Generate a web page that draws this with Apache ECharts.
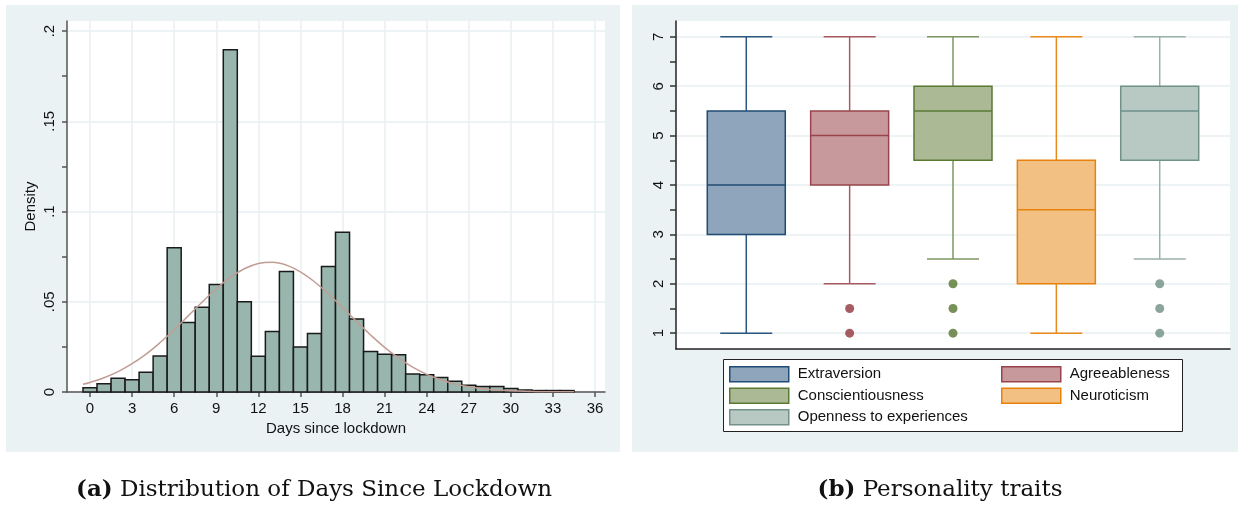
<!DOCTYPE html>
<html>
<head>
<meta charset="utf-8">
<script src="https://cdn.jsdelivr.net/npm/echarts@6/dist/echarts.min.js"></script>
<style>
html, body { margin: 0; padding: 0; background: #fff; }
#chart { width: 1239px; height: 506px; }
</style>
</head>
<body>
<div id="chart"></div>
<script>
// panel (a): histogram of days since lockdown
const days = [0, 1, 2, 3, 4, 5, 6, 7, 8, 9, 10, 11, 12, 13, 14, 15, 16, 17, 18, 19, 20, 21, 22, 23, 24, 25, 26, 27, 28, 29, 30, 31, 32, 33, 34];
const density = [0.0024, 0.0046, 0.0076, 0.0068, 0.011, 0.020, 0.080, 0.0385, 0.047, 0.0596, 0.1896, 0.050, 0.0198, 0.0335, 0.0668, 0.025, 0.0324, 0.0696, 0.0885, 0.0405, 0.0224, 0.0209, 0.0207, 0.010, 0.0096, 0.0081, 0.0059, 0.0037, 0.003, 0.003, 0.002, 0.0011, 0.0008, 0.0008, 0.0008];
// normal density overlay
const normalX = [-0.5, 0, 1, 2, 3, 4, 5, 6, 7, 8, 9, 10, 11, 12, 13, 14, 15, 16, 17, 18, 19, 20, 21, 22, 23, 24, 25, 26, 27, 28, 29, 30, 31, 32, 33, 34, 34.5];
const normalY = [0.0043, 0.0053, 0.0079, 0.0113, 0.0157, 0.021, 0.0274, 0.0345, 0.0422, 0.0499, 0.0572, 0.0635, 0.0683, 0.0712, 0.0719, 0.0703, 0.0666, 0.0611, 0.0543, 0.0468, 0.0391, 0.0316, 0.0247, 0.0188, 0.0138, 0.0098, 0.0068, 0.0045, 0.0029, 0.0018, 0.0011, 0.0007, 0.0004, 0.0002, 0.0001, 0.0001, 0.0001];
const dayTicks = [0, 3, 6, 9, 12, 15, 18, 21, 24, 27, 30, 33, 36];
const densityTicks = [0, 0.05, 0.1, 0.15, 0.2];
const densityMinor = [0.025, 0.075, 0.125, 0.175];

// panel (b): personality traits
const traits = ['Extraversion', 'Agreeableness', 'Conscientiousness', 'Neuroticism', 'Openness to experiences'];
const boxLow = [1, 2, 2.5, 1, 2.5];
const boxQ1 = [3, 4, 4.5, 2, 4.5];
const boxMed = [4, 5, 5.5, 3.5, 5.5];
const boxQ3 = [5.5, 5.5, 6, 4.5, 6];
const boxHigh = [7, 7, 7, 7, 7];
const outliers = [[], [1.5, 1], [2, 1.5, 1], [], [2, 1.5, 1]];
const scoreTicks = [1, 2, 3, 4, 5, 6, 7];
const scoreMinor = [1.5, 2.5, 3.5, 4.5, 5.5, 6.5];

const boxFill = ['#8ea5bb', '#c7999c', '#abb995', '#f1c082', '#b8c8c3'];
const boxLine = ['#1f4b74', '#98444a', '#5a7a34', '#e8820c', '#71918a'];
const whiskerLine = ['#2a5680', '#a85a60', '#7f9563', '#ea8a1a', '#9ab1aa'];
const dotColor = ['#1f4b74', '#90353b', '#55752f', '#e8820c', '#6e8e84'];

const gridColor = '#e9f1f2';
const panelBg = '#eaf2f3';

var myChart = echarts.init(document.getElementById('chart'));

function renderBar(params, api) {
  var x = api.value(0), y = api.value(1);
  var p0 = api.coord([x - 0.5, y]);
  var p1 = api.coord([x + 0.5, 0]);
  return {
    type: 'rect',
    shape: { x: p0[0], y: p0[1], width: p1[0] - p0[0], height: p1[1] - p0[1] },
    style: { fill: '#98b6ad', stroke: '#1a1a1a', lineWidth: 1.5 }
  };
}

function makeBox(i) {
  return function (params, api) {
    var x = api.value(0);
    var lo = api.coord([x, api.value(1)]);
    var q1 = api.coord([x, api.value(2)]);
    var md = api.coord([x, api.value(3)]);
    var q3 = api.coord([x, api.value(4)]);
    var hi = api.coord([x, api.value(5)]);
    var cx = lo[0], bw = 78, cw = 52;
    var ws = { stroke: whiskerLine[i], lineWidth: 1.5 };
    return {
      type: 'group',
      children: [
        { type: 'line', shape: { x1: cx, y1: q3[1], x2: cx, y2: hi[1] }, style: ws },
        { type: 'line', shape: { x1: cx, y1: q1[1], x2: cx, y2: lo[1] }, style: ws },
        { type: 'line', shape: { x1: cx - cw / 2, y1: hi[1], x2: cx + cw / 2, y2: hi[1] }, style: ws },
        { type: 'line', shape: { x1: cx - cw / 2, y1: lo[1], x2: cx + cw / 2, y2: lo[1] }, style: ws },
        { type: 'rect', shape: { x: cx - bw / 2, y: q3[1], width: bw, height: q1[1] - q3[1] },
          style: { fill: boxFill[i], stroke: boxLine[i], lineWidth: 1.5 } },
        { type: 'line', shape: { x1: cx - bw / 2, y1: md[1], x2: cx + bw / 2, y2: md[1] },
          style: { stroke: boxLine[i], lineWidth: 1.5 } }
      ]
    };
  };
}

var boxSeries = traits.map(function (t, i) {
  return {
    name: t,
    type: 'custom',
    xAxisIndex: 1,
    yAxisIndex: 2,
    itemStyle: { color: boxFill[i], borderColor: boxLine[i] },
    encode: { x: 0, y: [1, 2, 3, 4, 5] },
    data: [[i + 1, boxLow[i], boxQ1[i], boxMed[i], boxQ3[i], boxHigh[i]]],
    renderItem: makeBox(i)
  };
});

var outlierData = [];
outliers.forEach(function (vals, i) {
  vals.forEach(function (v) {
    outlierData.push({ value: [i + 1, v], itemStyle: { color: dotColor[i] } });
  });
});

var axisFont = { fontSize: 15, color: '#111', fontFamily: 'Liberation Sans' };

function legendItem(i) {
  return { name: traits[i], icon: 'rect', itemStyle: { color: boxFill[i], borderColor: boxLine[i], borderWidth: 1.5 } };
}

var legendBase = {
  orient: 'vertical', top: 366, padding: 0, itemWidth: 59, itemHeight: 15, itemGap: 5,
  selectedMode: false,
  textStyle: { fontSize: 15, color: '#111', fontFamily: 'Liberation Sans', padding: [0, 0, 0, 4] }
};

var option = {
  animation: false,
  backgroundColor: '#fff',
  graphic: [
    { type: 'rect', z: -10, silent: true, shape: { x: 6, y: 5, width: 614, height: 447 }, style: { fill: panelBg } },
    { type: 'rect', z: -10, silent: true, shape: { x: 632, y: 5, width: 606, height: 447 }, style: { fill: panelBg } },
    { type: 'rect', z: 0, silent: true, shape: { x: 723.5, y: 359.5, width: 459, height: 72 }, style: { fill: '#fff', stroke: '#222', lineWidth: 1 } },
    { type: 'text', silent: true, x: 314, y: 490,
      style: { text: '{b|(a)} Distribution of Days Since Lockdown', align: 'center', verticalAlign: 'middle',
        fontFamily: 'DejaVu Serif', fontSize: 23, fill: '#111',
        rich: { b: { fontWeight: 'bold', fontFamily: 'DejaVu Serif', fontSize: 23, fill: '#111' } } } },
    { type: 'text', silent: true, x: 940, y: 490,
      style: { text: '{b|(b)} Personality traits', align: 'center', verticalAlign: 'middle',
        fontFamily: 'DejaVu Serif', fontSize: 23, fill: '#111',
        rich: { b: { fontWeight: 'bold', fontFamily: 'DejaVu Serif', fontSize: 23, fill: '#111' } } } }
  ],
  legend: [
    Object.assign({}, legendBase, { left: 729, data: [legendItem(0), legendItem(2), legendItem(4)] }),
    Object.assign({}, legendBase, { left: 1001, data: [legendItem(1), legendItem(3)] })
  ],
  grid: [
    { left: 67, top: 21, width: 538, height: 371, show: true, backgroundColor: '#fff', borderWidth: 0 },
    { left: 676, top: 21, width: 554, height: 328, show: true, backgroundColor: '#fff', borderWidth: 0 }
  ],
  xAxis: [
    {
      gridIndex: 0, type: 'value', min: -1.64, max: 36.71,
      name: 'Days since lockdown', nameLocation: 'middle', nameGap: 25, nameTextStyle: axisFont,
      axisLine: { onZero: false, lineStyle: { color: '#555', width: 1.5 } },
      axisTick: { customValues: dayTicks, length: 5, lineStyle: { color: '#555', width: 1.5 } },
      axisLabel: Object.assign({ customValues: dayTicks, margin: 9 }, axisFont),
      splitLine: { show: true, lineStyle: { color: gridColor, width: 1.5 } }
    },
    {
      gridIndex: 1, type: 'value', min: 0.32, max: 5.68,
      axisLine: { onZero: false, lineStyle: { color: '#222', width: 1.5 } },
      axisTick: { show: false }, axisLabel: { show: false }, splitLine: { show: false }
    }
  ],
  yAxis: [
    {
      gridIndex: 0, type: 'value', min: 0, max: 0.2056,
      name: 'Density', nameLocation: 'middle', nameGap: 29, nameTextStyle: axisFont,
      axisLine: { show: true, onZero: false, lineStyle: { color: '#555', width: 1.5 } },
      axisTick: { show: true, customValues: densityTicks, length: 5, lineStyle: { color: '#555', width: 1.5 } },
      axisLabel: Object.assign({
        customValues: densityTicks, rotate: 90, margin: 10,
        formatter: function (v) { return v === 0 ? '0' : String(v).replace(/^0/, ''); }
      }, axisFont),
      splitLine: { show: true, lineStyle: { color: gridColor, width: 1.5 } }
    },
    {
      gridIndex: 0, type: 'value', min: 0, max: 0.2056, position: 'left',
      axisLine: { show: false, onZero: false },
      axisTick: { show: true, customValues: densityMinor, length: 5, lineStyle: { color: '#555', width: 1.5 } },
      axisLabel: { show: false }, splitLine: { show: false }
    },
    {
      gridIndex: 1, type: 'value', min: 0.68, max: 7.32,
      axisLine: { show: true, onZero: false, lineStyle: { color: '#222', width: 1.5 } },
      axisTick: { show: true, customValues: scoreTicks, length: 6, lineStyle: { color: '#333', width: 1.5 } },
      axisLabel: Object.assign({ customValues: scoreTicks, rotate: 90, margin: 10 }, axisFont),
      splitLine: { show: true, lineStyle: { color: gridColor, width: 1.5 } }
    },
    {
      gridIndex: 1, type: 'value', min: 0.68, max: 7.32, position: 'left',
      axisLine: { show: false, onZero: false },
      axisTick: { show: true, customValues: scoreMinor, length: 6, lineStyle: { color: '#333', width: 1.5 } },
      axisLabel: { show: false }, splitLine: { show: false }
    }
  ],
  series: [
    {
      name: 'hist', type: 'custom', xAxisIndex: 0, yAxisIndex: 0,
      encode: { x: 0, y: 1 },
      data: days.map(function (d, i) { return [d, density[i]]; }),
      renderItem: renderBar
    },
    {
      name: 'normal', type: 'line', xAxisIndex: 0, yAxisIndex: 0, z: 5,
      smooth: 0.4, showSymbol: false, silent: true,
      lineStyle: { color: '#c29d96', width: 1.5 },
      data: normalX.map(function (x, i) { return [x, normalY[i]]; })
    }
  ].concat(boxSeries).concat([
    {
      name: 'outliers', type: 'scatter', xAxisIndex: 1, yAxisIndex: 2,
      symbolSize: 9, data: outlierData
    }
  ])
};

myChart.setOption(option);
</script>
</body>
</html>
